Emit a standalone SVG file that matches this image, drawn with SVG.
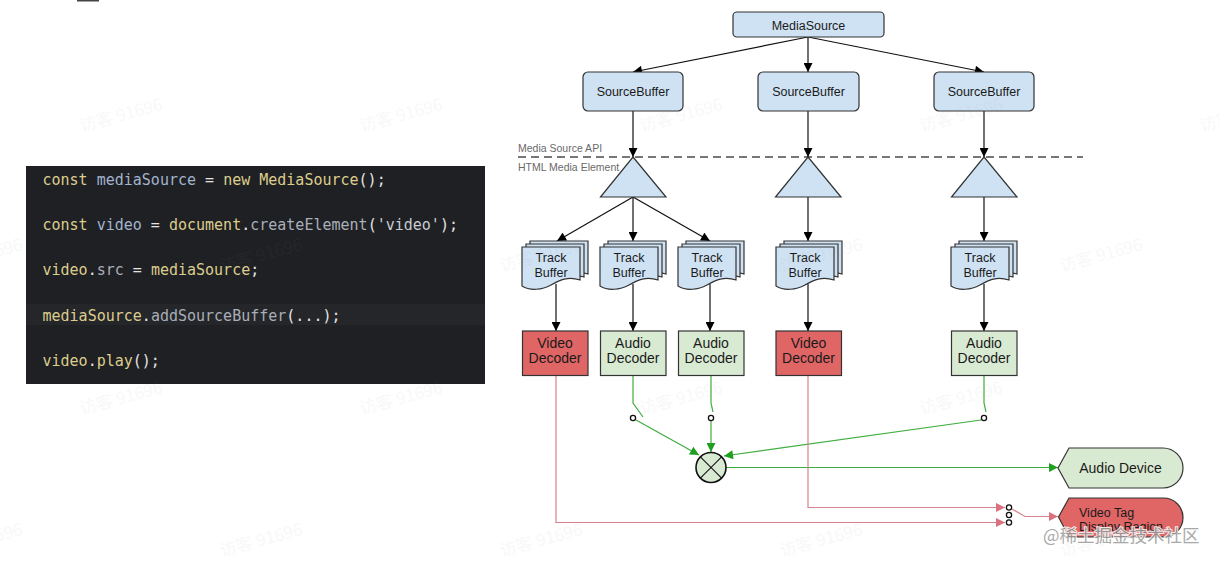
<svg xmlns="http://www.w3.org/2000/svg" width="1220" height="563" viewBox="0 0 1220 563">
<style>
  .lbl { font-family: "Liberation Sans", Arial, sans-serif; fill: #1a1a1a; text-anchor: middle; }
  .code { font-family: "DejaVu Sans Mono", "Liberation Mono", monospace; font-size: 15px; white-space: pre; }
  .kw { fill: #dccd8e; }
  .vr { fill: #a2b4ce; }
  .pn { fill: #e4e4e4; }
  .mt { fill: #a9afb9; }
  .st { fill: #c9ccd2; }
  .blue { fill: #cfe2f3; stroke: #333; stroke-width: 1.2; }
  .green { fill: #d9ead3; stroke: #333; stroke-width: 1.2; }
  .red { fill: #e06666; stroke: #333; stroke-width: 1.2; }
  .blk { stroke: #111; stroke-width: 1.2; fill: none; }
  .grn { stroke: #3fae3f; stroke-width: 1.2; fill: none; }
  .pnk { stroke: #d7828d; stroke-width: 1.2; fill: none; }
  .sw { fill: #fff; stroke: #111; stroke-width: 1.3; }
  .wm { font-family: "Noto Sans CJK SC", "Liberation Sans", sans-serif; font-size: 17px; fill: #888; opacity: 0.055; text-anchor: middle; }
</style>
<defs>
  <marker id="ab" viewBox="0 0 10 10" refX="10" refY="5" markerWidth="10" markerHeight="9" markerUnits="userSpaceOnUse" orient="auto"><path d="M0,0 L10,5 L0,10 z" fill="#000"/></marker>
  <marker id="ag" viewBox="0 0 10 10" refX="10" refY="5" markerWidth="10" markerHeight="9" markerUnits="userSpaceOnUse" orient="auto"><path d="M0,0 L10,5 L0,10 z" fill="#1f9f1f"/></marker>
  <marker id="ar" viewBox="0 0 10 10" refX="10" refY="5" markerWidth="10" markerHeight="9" markerUnits="userSpaceOnUse" orient="auto"><path d="M0,0 L10,5 L0,10 z" fill="#d9717f"/></marker>
  <path id="doc" d="M0,0 H58 V33 C46,29 38,33 29,38 C20,43 8,44 0,39 Z"/>
  <g id="tb">
    <use href="#doc" x="8" y="-6" class="blue"/>
    <use href="#doc" x="4" y="-3" class="blue"/>
    <use href="#doc" class="blue"/>
  </g>
</defs>
<rect width="1220" height="563" fill="#fff"/>
<rect x="77" y="0" width="22" height="1.5" fill="#444"/>

<!-- code block -->
<g id="code">
  <rect x="26" y="166" width="459" height="218" fill="#1f2023"/>
  <rect x="26" y="304" width="459" height="21" fill="#252629"/>
  <text class="code" x="42.5" y="185"><tspan class="kw">const</tspan><tspan class="pn"> </tspan><tspan class="vr">mediaSource</tspan><tspan class="pn"> = </tspan><tspan class="kw">new</tspan><tspan class="pn"> </tspan><tspan class="kw">MediaSource</tspan><tspan class="pn">();</tspan></text>
  <text class="code" x="42.5" y="230"><tspan class="kw">const</tspan><tspan class="pn"> </tspan><tspan class="vr">video</tspan><tspan class="pn"> = </tspan><tspan class="kw">document</tspan><tspan class="pn">.</tspan><tspan class="mt">createElement</tspan><tspan class="pn">(</tspan><tspan class="st">'video'</tspan><tspan class="pn">);</tspan></text>
  <text class="code" x="42.5" y="275"><tspan class="kw">video</tspan><tspan class="pn">.</tspan><tspan class="mt">src</tspan><tspan class="pn"> = </tspan><tspan class="kw">mediaSource</tspan><tspan class="pn">;</tspan></text>
  <text class="code" x="42.5" y="321"><tspan class="kw">mediaSource</tspan><tspan class="pn">.</tspan><tspan class="mt">addSourceBuffer</tspan><tspan class="pn">(...);</tspan></text>
  <text class="code" x="42.5" y="366"><tspan class="kw">video</tspan><tspan class="pn">.</tspan><tspan class="kw">play</tspan><tspan class="pn">();</tspan></text>
</g>

<!-- API boundary -->
<g id="boundary">
  <line x1="518" y1="157" x2="1083" y2="157" stroke="#777" stroke-width="2" stroke-dasharray="8,5"/>
  <text x="518" y="152" font-family="Liberation Sans, Arial, sans-serif" font-size="10.5" fill="#6a6a6a">Media Source API</text>
  <text x="518" y="171" font-family="Liberation Sans, Arial, sans-serif" font-size="10.5" fill="#6a6a6a">HTML Media Element</text>
</g>

<!-- connectors -->
<g id="connectors">
  <line class="blk" x1="808" y1="37" x2="633" y2="72" marker-end="url(#ab)"/>
  <line class="blk" x1="808" y1="37" x2="808" y2="72" marker-end="url(#ab)"/>
  <line class="blk" x1="808" y1="37" x2="984" y2="72" marker-end="url(#ab)"/>
  <line class="blk" x1="633" y1="111" x2="633" y2="157" marker-end="url(#ab)"/>
  <line class="blk" x1="808" y1="111" x2="808" y2="157" marker-end="url(#ab)"/>
  <line class="blk" x1="984" y1="111" x2="984" y2="157" marker-end="url(#ab)"/>
  <line class="blk" x1="633" y1="197" x2="557" y2="241" marker-end="url(#ab)"/>
  <line class="blk" x1="633" y1="197" x2="633" y2="241" marker-end="url(#ab)"/>
  <line class="blk" x1="633" y1="197" x2="710" y2="241" marker-end="url(#ab)"/>
  <line class="blk" x1="808" y1="197" x2="808" y2="241" marker-end="url(#ab)"/>
  <line class="blk" x1="984" y1="197" x2="984" y2="241" marker-end="url(#ab)"/>
  <line class="blk" x1="556" y1="284" x2="556" y2="331" marker-end="url(#ab)"/>
  <line class="blk" x1="633" y1="284" x2="633" y2="331" marker-end="url(#ab)"/>
  <line class="blk" x1="710" y1="284" x2="710" y2="331" marker-end="url(#ab)"/>
  <line class="blk" x1="808" y1="284" x2="808" y2="331" marker-end="url(#ab)"/>
  <line class="blk" x1="984" y1="284" x2="984" y2="331" marker-end="url(#ab)"/>

  <!-- audio switches -->
  <polyline class="grn" points="633,375 633,403 643,417"/>
  <polyline class="grn" points="711,375 711,403 713,412"/>
  <polyline class="grn" points="984,375 984,403 986,412"/>
  <line class="grn" x1="636" y1="420" x2="699" y2="455" marker-end="url(#ag)"/>
  <line class="grn" x1="711" y1="421" x2="711" y2="452" marker-end="url(#ag)"/>
  <line class="grn" x1="981" y1="420" x2="724" y2="456" marker-end="url(#ag)"/>
  <line class="grn" x1="726" y1="467.5" x2="1058" y2="467.5" marker-end="url(#ag)"/>
  <circle class="sw" cx="633" cy="418" r="2.6"/>
  <circle class="sw" cx="711" cy="418" r="2.6"/>
  <circle class="sw" cx="984" cy="418" r="2.6"/>

  <!-- video paths -->
  <polyline class="pnk" points="556,375 556,522.5 1005,522.5" marker-end="url(#ar)"/>
  <polyline class="pnk" points="808,375 808,507.5 1005,507.5" marker-end="url(#ar)"/>
  <polyline class="pnk" points="1012,509 1025,516.5 1058,516.5" marker-end="url(#ar)"/>
  <circle class="sw" cx="1009" cy="507.5" r="2.6"/>
  <circle class="sw" cx="1009" cy="515" r="2.6"/>
  <circle class="sw" cx="1009" cy="522.5" r="2.6"/>
</g>

<!-- nodes -->
<g id="media-source">
  <rect class="blue" x="733" y="12" width="151" height="25" rx="4"/>
  <text class="lbl" x="808.5" y="29.5" font-size="12.5">MediaSource</text>
</g>
<g id="source-buffer-1">
  <rect class="blue" x="583" y="72" width="100" height="39" rx="5"/>
  <text class="lbl" x="633" y="96" font-size="12.5">SourceBuffer</text>
</g>
<g id="source-buffer-2">
  <rect class="blue" x="758" y="72" width="101" height="39" rx="5"/>
  <text class="lbl" x="808.5" y="96" font-size="12.5">SourceBuffer</text>
</g>
<g id="source-buffer-3">
  <rect class="blue" x="934" y="72" width="100" height="39" rx="5"/>
  <text class="lbl" x="984" y="96" font-size="12.5">SourceBuffer</text>
</g>

<g id="demux-1"><polygon class="blue" points="633,157 666,197 600.5,197"/></g>
<g id="demux-2"><polygon class="blue" points="808,157 841,197 775.5,197"/></g>
<g id="demux-3"><polygon class="blue" points="984,157 1017,197 951.5,197"/></g>

<g id="track-buffer-1">
  <use href="#tb" x="522" y="247"/>
  <text class="lbl" x="551" y="262" font-size="12.5">Track</text>
  <text class="lbl" x="551" y="277" font-size="12.5">Buffer</text>
</g>
<g id="track-buffer-2">
  <use href="#tb" x="600" y="247"/>
  <text class="lbl" x="629" y="262" font-size="12.5">Track</text>
  <text class="lbl" x="629" y="277" font-size="12.5">Buffer</text>
</g>
<g id="track-buffer-3">
  <use href="#tb" x="678" y="247"/>
  <text class="lbl" x="707" y="262" font-size="12.5">Track</text>
  <text class="lbl" x="707" y="277" font-size="12.5">Buffer</text>
</g>
<g id="track-buffer-4">
  <use href="#tb" x="776" y="247"/>
  <text class="lbl" x="805" y="262" font-size="12.5">Track</text>
  <text class="lbl" x="805" y="277" font-size="12.5">Buffer</text>
</g>
<g id="track-buffer-5">
  <use href="#tb" x="951" y="247"/>
  <text class="lbl" x="980" y="262" font-size="12.5">Track</text>
  <text class="lbl" x="980" y="277" font-size="12.5">Buffer</text>
</g>

<g id="video-decoder-1">
  <rect class="red" x="522.5" y="331" width="65.5" height="44.5"/>
  <text class="lbl" x="555" y="348" font-size="14" fill="#2a0a0a">Video</text>
  <text class="lbl" x="555" y="363" font-size="14" fill="#2a0a0a">Decoder</text>
</g>
<g id="audio-decoder-1">
  <rect class="green" x="600.5" y="331" width="65.5" height="44.5"/>
  <text class="lbl" x="633" y="348" font-size="14">Audio</text>
  <text class="lbl" x="633" y="363" font-size="14">Decoder</text>
</g>
<g id="audio-decoder-2">
  <rect class="green" x="678.5" y="331" width="65.5" height="44.5"/>
  <text class="lbl" x="711" y="348" font-size="14">Audio</text>
  <text class="lbl" x="711" y="363" font-size="14">Decoder</text>
</g>
<g id="video-decoder-2">
  <rect class="red" x="776" y="331" width="65.5" height="44.5"/>
  <text class="lbl" x="808.5" y="348" font-size="14" fill="#2a0a0a">Video</text>
  <text class="lbl" x="808.5" y="363" font-size="14" fill="#2a0a0a">Decoder</text>
</g>
<g id="audio-decoder-3">
  <rect class="green" x="951.5" y="331" width="65.5" height="44.5"/>
  <text class="lbl" x="984" y="348" font-size="14">Audio</text>
  <text class="lbl" x="984" y="363" font-size="14">Decoder</text>
</g>

<g id="mixer">
  <circle cx="711" cy="467.5" r="15" fill="#d9ead3" stroke="#111" stroke-width="1.6"/>
  <line x1="700.4" y1="456.9" x2="721.6" y2="478.1" stroke="#111" stroke-width="1.1"/>
  <line x1="721.6" y1="456.9" x2="700.4" y2="478.1" stroke="#111" stroke-width="1.1"/>
</g>

<g id="audio-device">
  <path class="green" d="M1058,468 L1069,448 H1163 A20,20 0 0 1 1163,488 H1069 Z"/>
  <text class="lbl" x="1120.5" y="473" font-size="14">Audio Device</text>
</g>
<g id="video-tag">
  <path class="red" d="M1058.5,517 L1069,498 H1163.5 A19.5,19.5 0 0 1 1163.5,537 H1069 Z"/>
  <text x="1079" y="516.5" font-family="Liberation Sans, Arial, sans-serif" font-size="12.5" fill="#1a1a1a">Video Tag</text>
  <text x="1079" y="531" font-family="Liberation Sans, Arial, sans-serif" font-size="12.5" fill="#1a1a1a">Display Region</text>
</g>

<!-- watermarks -->
<g id="watermarks">
  <text class="wm" x="121" y="121" transform="rotate(-15 121 115)">访客 91696</text>
  <text class="wm" x="401" y="121" transform="rotate(-15 401 115)">访客 91696</text>
  <text class="wm" x="681" y="121" transform="rotate(-15 681 115)">访客 91696</text>
  <text class="wm" x="961" y="121" transform="rotate(-15 961 115)">访客 91696</text>
  <text class="wm" x="1241" y="121" transform="rotate(-15 1241 115)">访客 91696</text>
  <text class="wm" x="-19" y="261" transform="rotate(-15 -19 255)">访客 91696</text>
  <text class="wm" x="261" y="261" transform="rotate(-15 261 255)">访客 91696</text>
  <text class="wm" x="541" y="261" transform="rotate(-15 541 255)">访客 91696</text>
  <text class="wm" x="821" y="261" transform="rotate(-15 821 255)">访客 91696</text>
  <text class="wm" x="1101" y="261" transform="rotate(-15 1101 255)">访客 91696</text>
  <text class="wm" x="121" y="404" transform="rotate(-15 121 398)">访客 91696</text>
  <text class="wm" x="401" y="404" transform="rotate(-15 401 398)">访客 91696</text>
  <text class="wm" x="681" y="404" transform="rotate(-15 681 398)">访客 91696</text>
  <text class="wm" x="961" y="404" transform="rotate(-15 961 398)">访客 91696</text>
  <text class="wm" x="-19" y="546" transform="rotate(-15 -19 540)">访客 91696</text>
  <text class="wm" x="261" y="546" transform="rotate(-15 261 540)">访客 91696</text>
  <text class="wm" x="541" y="546" transform="rotate(-15 541 540)">访客 91696</text>
  <text class="wm" x="821" y="546" transform="rotate(-15 821 540)">访客 91696</text>
  <text class="wm" x="1101" y="546" transform="rotate(-15 1101 540)">访客 91696</text>
  <text x="1043" y="542" font-family="Noto Sans CJK SC, Liberation Sans, sans-serif" font-size="17.5" fill="#9a9a9a" stroke="#fff" stroke-width="2" paint-order="stroke" opacity="0.85">@稀土掘金技术社区</text>
</g>
</svg>
